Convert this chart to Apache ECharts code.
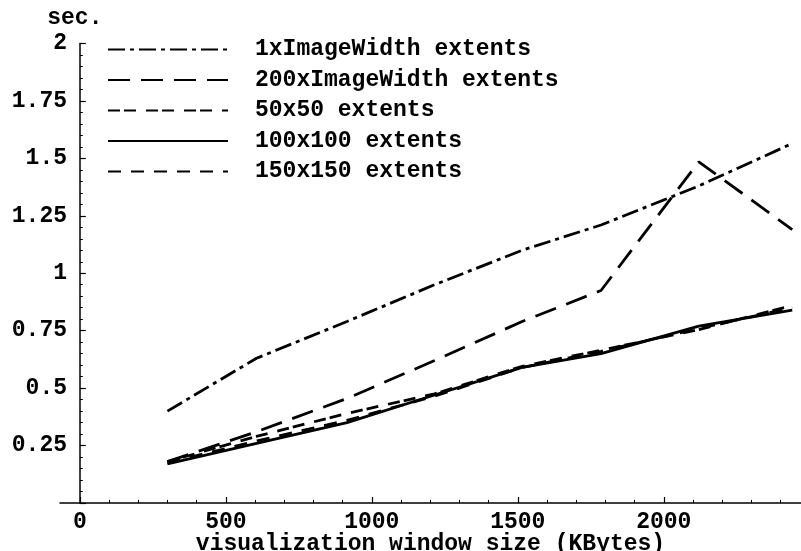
<!DOCTYPE html>
<html>
<head>
<meta charset="utf-8">
<script src="https://cdn.jsdelivr.net/npm/echarts@6/dist/echarts.min.js"></script>
<style>
html,body{margin:0;padding:0;background:#fff;}
#chart{width:801px;height:551px;}
</style>
</head>
<body>
<div id="chart"></div>
<script>
// ---- data ----
const xValues = [300, 605, 915, 1215, 1515, 1785, 2120, 2440];
const seriesNames = ['1xImageWidth extents', '200xImageWidth extents', '50x50 extents', '100x100 extents', '150x150 extents'];
const s1xImageWidth   = [0.40, 0.63, 0.79, 0.95, 1.10, 1.21, 1.38, 1.565];
const s200xImageWidth = [0.18, 0.31, 0.455, 0.62, 0.79, 0.925, 1.485, 1.19];
const s50x50          = [0.18, 0.29, 0.39, 0.475, 0.595, 0.665, 0.755, 0.86];
const s100x100        = [0.17, 0.26, 0.35, 0.47, 0.59, 0.65, 0.77, 0.84];
const s150x150        = [0.175, 0.27, 0.36, 0.465, 0.59, 0.66, 0.76, 0.85];
const xMajorTicks = [0, 500, 1000, 1500, 2000];
const xMinorTicks = [100,200,300,400,600,700,800,900,1100,1200,1300,1400,1600,1700,1800,1900,2100,2200,2300,2400];

const FONT = '"Liberation Mono", "DejaVu Sans Mono", monospace';
const FS = 23;
const allValues = [s1xImageWidth, s200xImageWidth, s50x50, s100x100, s150x150];
const dashes = [[17,5,4,5], [22,11], [12,4,12,10], 'solid', [13,10]];

function pairs(vals){ return vals.map((v,i)=>[xValues[i], v]); }

const chart = echarts.init(document.getElementById('chart'), null, {renderer:'canvas'});
chart.setOption({
  animation: false,
  backgroundColor: '#fff',
  grid: { left: 60, right: 0, top: 43.5, bottom: 48, containLabel: false, outerBoundsMode: 'none' },
  legend: {
    orient: 'vertical', left: 107, top: 38, padding: 0,
    itemWidth: 120, itemHeight: 14, itemGap: 7.5,
    itemStyle: { color: 'rgba(0,0,0,0)', borderWidth: 0, opacity: 0 },
    textStyle: { fontFamily: FONT, fontWeight: 'bold', fontSize: FS, color: '#000', lineHeight: 22, padding: [0,0,0,22] },
    data: seriesNames
  },
  xAxis: [{
    type: 'value', min: -68, max: 2470,
    axisLine: { onZero: true, lineStyle: { color: '#000', width: 1.5 } },
    axisTick: { inside: true, length: 6, customValues: xMajorTicks, lineStyle:{color:'#000', width:1.2} },
    axisLabel: { customValues: xMajorTicks, margin: 8, color:'#000', fontFamily: FONT, fontWeight:'bold', fontSize: FS,
                 formatter: v => String(v) },
    splitLine: { show: false },
    name: 'visualization window size (KBytes)', nameLocation: 'middle', nameGap: 30, nameMoveOverlap: false,
    nameTextStyle: { fontFamily: FONT, fontWeight: 'bold', fontSize: FS, color: '#000' }
  },{
    type: 'value', min: -68, max: 2470, position: 'bottom',
    axisLine: { show: false },
    axisTick: { inside: true, length: 3, customValues: xMinorTicks, lineStyle:{color:'#000', width:1} },
    axisLabel: { show: false },
    splitLine: { show: false }
  }],
  yAxis: {
    type: 'value', min: 0, max: 2, interval: 0.25,
    axisLine: { onZero: true, lineStyle: { color: '#000', width: 1.5 } },
    axisTick: { inside: true, length: 6, lineStyle:{color:'#000', width:1.2} },
    minorTick: { show: true, splitNumber: 5, length: 3, lineStyle:{color:'#000', width:1} },
    axisLabel: { showMinLabel: false, margin: -7, color:'#000', fontFamily: FONT, fontWeight:'bold', fontSize: FS,
                 formatter: v => String(v) },
    splitLine: { show: false },
    name: 'sec.', nameLocation: 'end', nameGap: 14,
    nameTextStyle: { fontFamily: FONT, fontWeight: 'bold', fontSize: FS, color: '#000', align: 'center', padding: [0,10,0,0] }
  },
  series: allValues.map((vals, i) => ({
    name: seriesNames[i], type: 'line', xAxisIndex: 0,
    data: pairs(vals), symbol: 'none', showSymbol: false,
    lineStyle: { color: '#000', width: 2.8, type: dashes[i], cap: 'butt' },
    itemStyle: { color: '#000' }
  }))
});
</script>
</body>
</html>
